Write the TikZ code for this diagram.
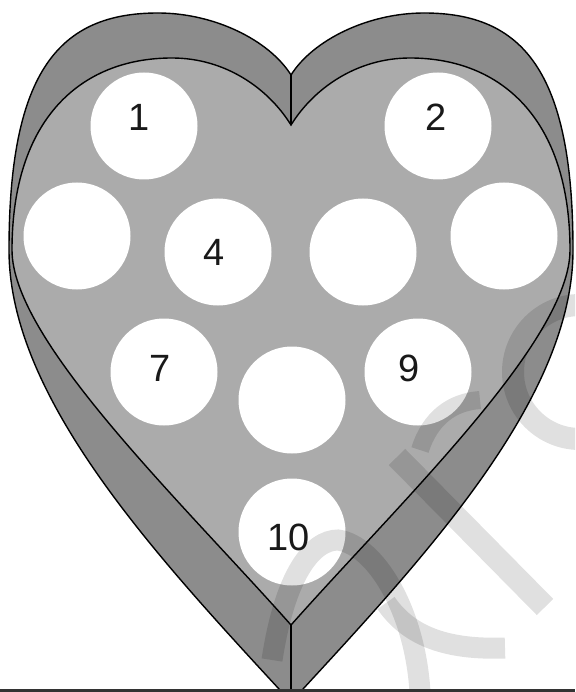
\documentclass[tikz,border=0pt]{standalone}
\usepackage{fontspec}
\setmainfont{Liberation Sans}
\begin{document}
\begin{tikzpicture}[x=1pt,y=-1pt,
  rim/.style={fill=black!45, draw=black, line width=1.4pt},
  tray/.style={fill=black!33, draw=black, line width=1.4pt},
  hole/.style={circle, fill=white, minimum size=107pt, inner sep=0pt},
  num/.style={inner sep=0pt, font=\fontsize{38}{38}\selectfont, text=black!90},
  edge/.style={draw=black, line width=1.4pt},
  wm/.style={draw=black, draw opacity=0.12, line width=23pt, line cap=butt}]
\useasboundingbox (0,0) rectangle (575,692);
\fill[white] (0,0) rectangle (575,692);
\coordinate (onotch) at (291,75);
\coordinate (inotch) at (291,125);
\coordinate (itip) at (291,625);
\coordinate (base) at (291,689);
\begin{scope}
\clip (0,0) rectangle (575,689);
\path[rim] (291,75) .. controls (269,40) and (214,13) .. (158,13)
  .. controls (60,13) and (9,70) .. (9,250)
  .. controls (9,400) and (160,560) .. (291,702)
  .. controls (422,560) and (573,400) .. (573,250)
  .. controls (573,70) and (522,13) .. (424,13)
  .. controls (368,13) and (313,40) .. (291,75) -- cycle;
\path[tray] (291,125) .. controls (268,88) and (225,58) .. (172,58)
  .. controls (80,58) and (12,120) .. (12,250)
  .. controls (12,340) and (180,500) .. (291,625)
  .. controls (402,500) and (570,340) .. (570,250)
  .. controls (570,120) and (502,58) .. (410,58)
  .. controls (357,58) and (314,88) .. (291,125) -- cycle;
\draw[edge] (onotch) -- (inotch);
\draw[edge] (itip) -- (base);
\end{scope}
\node[hole] (c1) at (144,126) {};
\node[hole] (c2) at (438,126) {};
\node[hole] (c3) at (77,236) {};
\node[hole] (c4) at (218,252) {};
\node[hole] (c5) at (363,252) {};
\node[hole] (c6) at (504,236) {};
\node[hole] (c7) at (164,372) {};
\node[hole] (c8) at (292,400) {};
\node[hole] (c9) at (418,372) {};
\node[hole] (c10) at (292,532) {};
\node[num] (t1) at (139,117) {1};
\node[num] (t2) at (436,117) {2};
\node[num] (t4) at (214,252) {4};
\node[num] (t7) at (160,368) {7};
\node[num] (t9) at (409,368) {9};
\node[num] (t10) at (289,537) {10};
% watermark strokes
\begin{scope}
\clip (0,0) rectangle (575,688);
\draw[wm] (397,457) -- (545,607);
\draw[wm, line width=21pt] (272,660) .. controls (285,575) and (312,540) .. (338,540)
  .. controls (375,545) and (415,610) .. (420,692);
\draw[wm, line width=21pt] (386,603) .. controls (410,638) and (450,650) .. (505,648);
\draw[wm, line width=22pt] (580,305) arc[start angle=270, end angle=90, radius=67];
\draw[wm, line width=18pt] (420,450) .. controls (430,418) and (452,402) .. (480,400);
\end{scope}
\draw[black!80, line width=3pt] (0,690.5) -- (575,690.5);
\end{tikzpicture}
\end{document}
